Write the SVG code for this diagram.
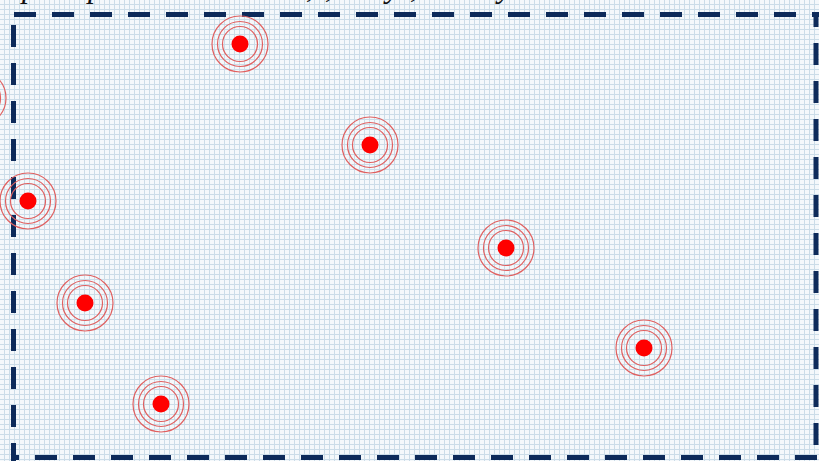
<svg xmlns="http://www.w3.org/2000/svg" width="819" height="461" viewBox="0 0 819 461">
  <style>
    .frame { stroke: #0d2a5a; stroke-width: 5; fill: none; stroke-dasharray: 22 16; }
    .ring { fill: none; stroke: #e06060; stroke-width: 1.2; }
    .dot { fill: #ff0000; }
    .cap { font-family: "Liberation Serif", serif; font-style: italic; font-size: 32px; fill: #111; }
  </style>
  <defs>
    <pattern id="grid" x="0" y="0" width="5" height="5" patternUnits="userSpaceOnUse">
      <rect width="5" height="5" fill="#f4f8fb"/>
      <path d="M4.5 0 V5 M0 4.5 H5" stroke="#cbdce8" stroke-width="1" fill="none"/>
    </pattern>
    <g id="target">
      <circle class="ring" r="28"/>
      <circle class="ring" r="22.5"/>
      <circle class="ring" r="17.5"/>
      <circle class="dot" r="8.5"/>
    </g>
  </defs>
  <rect width="819" height="461" fill="url(#grid)"/>
  <g id="caption">
    <text class="cap" x="22" y="-3">p</text>
    <text class="cap" x="88" y="-3">p</text>
    <text class="cap" x="306" y="-3">,</text>
    <text class="cap" x="325" y="-3">,</text>
    <text class="cap" x="386" y="-3">y</text>
    <text class="cap" x="410" y="-3">,</text>
    <text class="cap" x="498" y="-3">y</text>
  </g>
  <g id="connectors"></g>
  <g id="frame">
    <line class="frame" x1="14" y1="14.5" x2="819" y2="14.5"/>
    <line class="frame" x1="13.5" y1="25" x2="13.5" y2="461"/>
    <line class="frame" x1="816" y1="12" x2="816" y2="461" stroke-dashoffset="7"/>
    <line class="frame" x1="11" y1="457.5" x2="819" y2="457.5" stroke-dashoffset="14"/>
  </g>
  <g id="node-edge"><use href="#target" x="-22" y="98"/></g>
  <g id="node-1"><use href="#target" x="240" y="44"/></g>
  <g id="node-2"><use href="#target" x="370" y="145"/></g>
  <g id="node-3"><use href="#target" x="28" y="201"/></g>
  <g id="node-4"><use href="#target" x="506" y="248"/></g>
  <g id="node-5"><use href="#target" x="85" y="303"/></g>
  <g id="node-6"><use href="#target" x="161" y="404"/></g>
  <g id="node-7"><use href="#target" x="644" y="348"/></g>
</svg>
